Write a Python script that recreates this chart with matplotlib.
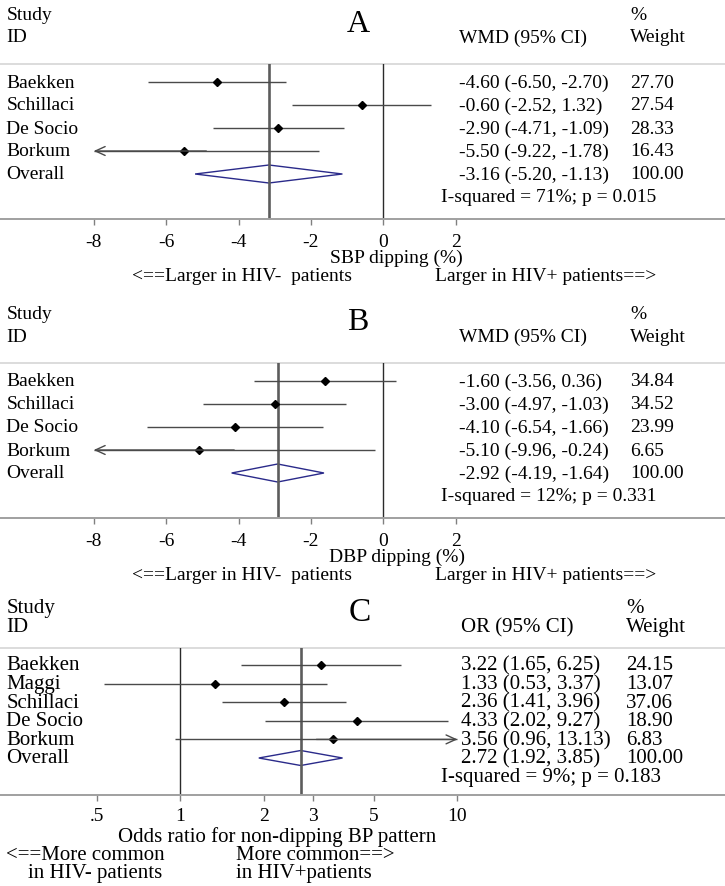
import matplotlib
matplotlib.use("Agg")
import matplotlib.pyplot as plt
from matplotlib.patches import Polygon
import numpy as np

plt.rcParams['font.family'] = ['Liberation Serif', 'DejaVu Serif']

# ---------------- data ----------------
studies_A = ["Baekken", "Schillaci", "De Socio", "Borkum"]
est_A = [-4.60, -0.60, -2.90, -5.50]
lo_A = [-6.50, -2.52, -4.71, -9.22]
hi_A = [-2.70, 1.32, -1.09, -1.78]
wt_A = [27.70, 27.54, 28.33, 16.43]
overall_A = [-3.16, -5.20, -1.13]
het_A = "I-squared = 71%; p = 0.015"
ticks_A = [-8, -6, -4, -2, 0, 2]
ticklabels_A = ["-8", "-6", "-4", "-2", "0", "2"]

studies_B = ["Baekken", "Schillaci", "De Socio", "Borkum"]
est_B = [-1.60, -3.00, -4.10, -5.10]
lo_B = [-3.56, -4.97, -6.54, -9.96]
hi_B = [0.36, -1.03, -1.66, -0.24]
wt_B = [34.84, 34.52, 23.99, 6.65]
overall_B = [-2.92, -4.19, -1.64]
het_B = "I-squared = 12%; p = 0.331"
ticks_B = [-8, -6, -4, -2, 0, 2]
ticklabels_B = ["-8", "-6", "-4", "-2", "0", "2"]

studies_C = ["Baekken", "Maggi", "Schillaci", "De Socio", "Borkum"]
est_C = [3.22, 1.33, 2.36, 4.33, 3.56]
lo_C = [1.65, 0.53, 1.41, 2.02, 0.96]
hi_C = [6.25, 3.37, 3.96, 9.27, 13.13]
wt_C = [24.15, 13.07, 37.06, 18.90, 6.83]
overall_C = [2.72, 1.92, 3.85]
het_C = "I-squared = 9%; p = 0.183"
ticks_C = [0.5, 1, 2, 3, 5, 10]
ticklabels_C = [".5", "1", "2", "3", "5", "10"]

# ---------------- figure ----------------
W, H = 725, 887
fig = plt.figure(figsize=(W / 100, H / 100), dpi=100)


def fx(px):
    return px / W


def fy(py):
    return 1 - py / H


def ftext(x, y, s, size, ha="left", va="center", **kw):
    fig.text(fx(x), fy(y), s, fontsize=size, ha=ha, va=va, color="black", **kw)


CI_COLOR = "#4a4a4a"
OVL_COLOR = "#5c5c5c"
DIAM_COLOR = "#2a2a8a"
SEP_COLOR = "#d6d6d6"
AX_COLOR = "#a0a0a0"
ARROW = "->,head_length=0.7,head_width=0.32"


def panel(top, bottom, xlim, log, studies, est, lo, hi, wt, overall, het,
          ticks, ticklabels, clip, row0, rowstep, fs, dh, hdr):
    ax = fig.add_axes([0, fy(bottom), 1, (bottom - top) / H])
    if log:
        ax.set_xscale("log")
    ax.set_xlim(*xlim)
    ax.set_ylim(bottom - top, 0)
    for s in ["top", "left", "right"]:
        ax.spines[s].set_visible(False)
    ax.spines["bottom"].set_color(AX_COLOR)
    ax.spines["bottom"].set_linewidth(1.4)
    ax.set_yticks([])
    ax.set_xticks(ticks)
    ax.set_xticklabels(ticklabels, fontsize=hdr["tickfs"])
    ax.xaxis.set_minor_locator(matplotlib.ticker.NullLocator())
    ax.tick_params(axis="x", length=4, color="#808080", width=1, pad=hdr["pad"])
    # separator line
    ax.axhline(0, color=SEP_COLOR, lw=1.2, clip_on=False)
    # null line and overall line
    nullx = 1 if log else 0
    ax.axvline(nullx, color="#2a2a2a", lw=1.0)
    ax.axvline(overall[0], color=OVL_COLOR, lw=1.9)
    rows = [row0 + i * rowstep for i in range(len(studies) + 1)]
    for i, name in enumerate(studies):
        y = rows[i] - top
        a, b = lo[i], hi[i]
        ca, cb = max(a, clip[0]), min(b, clip[1])
        mid = np.sqrt(ca * cb) if log else (ca + cb) / 2
        ax.plot([ca, cb], [y, y], color=CI_COLOR, lw=1.0, solid_capstyle="butt")
        if a < clip[0]:
            ax.annotate("", xy=(clip[0], y), xytext=(mid, y),
                        arrowprops=dict(arrowstyle=ARROW, color=CI_COLOR, lw=1.0,
                                        shrinkA=0, shrinkB=0))
        if b > clip[1]:
            ax.annotate("", xy=(clip[1], y), xytext=(mid, y),
                        arrowprops=dict(arrowstyle=ARROW, color=CI_COLOR, lw=1.0,
                                        shrinkA=0, shrinkB=0))
        ax.plot([est[i]], [y], marker="D", ms=4, color="black", mec="black")
        ftext(6.5, rows[i], name, fs)
        ftext(hdr["cix"], rows[i], f"{est[i]:.2f} ({lo[i]:.2f}, {hi[i]:.2f})", fs)
        ftext(hdr["wx"], rows[i], f"{wt[i]:.2f}", fs)
    # overall diamond
    y = rows[-1] - top
    e, a, b = overall
    ax.add_patch(Polygon([[a, y], [e, y - dh], [b, y], [e, y + dh]], closed=True,
                         fill=False, edgecolor=DIAM_COLOR, lw=1.0))
    ftext(6.5, rows[-1], "Overall", fs)
    ftext(hdr["cix"], rows[-1], f"{e:.2f} ({a:.2f}, {b:.2f})", fs)
    ftext(hdr["wx"], rows[-1], "100.00", fs)
    ftext(441.5, rows[-1] + hdr["hety"], het, fs)
    # headers
    ftext(6.5, hdr["y1"], "Study", fs)
    ftext(6.5, hdr["y2"], "ID", fs)
    ftext(hdr["letx"], hdr["lety"], hdr["letter"], hdr["letfs"], ha="center")
    ftext(hdr["cix"], hdr["y2"], hdr["cihead"], fs)
    ftext(hdr["wx"], hdr["y1"], "%", fs)
    ftext(hdr["wx"], hdr["y2"], "Weight", fs)
    return ax


FS = 14
# Panel A
panel(65, 220, (-10.59, 9.44), False, studies_A, est_A, lo_A, hi_A, wt_A, overall_A, het_A,
      ticks_A, ticklabels_A, (-8, 2), 83, 23, FS, 9,
      dict(cix=459, wx=630, y1=16, y2=38, letx=358, lety=24, letter="A", letfs=23,
           cihead="WMD (95% CI)", hety=23, pad=6, tickfs=FS))
ftext(396.5, 258, "SBP dipping (%)", FS, ha="center")
ftext(242, 277, "<==Larger in HIV-  patients", FS, ha="center")
ftext(546, 277, "Larger in HIV+ patients==>", FS, ha="center")

# Panel B
off = 299
panel(65 + off, 220 + off, (-10.59, 9.44), False, studies_B, est_B, lo_B, hi_B, wt_B, overall_B, het_B,
      ticks_B, ticklabels_B, (-8, 2), 83 + off, 23, FS, 9,
      dict(cix=459, wx=630, y1=16 + off, y2=38 + off, letx=358, lety=24 + off, letter="B", letfs=23,
           cihead="WMD (95% CI)", hety=23, pad=6, tickfs=FS))
ftext(396.5, 258 + off, "DBP dipping (%)", FS, ha="center")
ftext(242, 277 + off, "<==Larger in HIV-  patients", FS, ha="center")
ftext(546, 277 + off, "Larger in HIV+ patients==>", FS, ha="center")

# Panel C
panel(649, 796, (0.2237, 92.3), True, studies_C, est_C, lo_C, hi_C, wt_C, overall_C, het_C,
      ticks_C, ticklabels_C, (0.5, 10), 666, 18.6, 15, 7.5,
      dict(cix=461, wx=626, y1=609, y2=628, letx=360, lety=613, letter="C", letfs=24,
           cihead="OR (95% CI)", hety=19, pad=5, tickfs=14))
ftext(277, 837, "Odds ratio for non-dipping BP pattern", 15, ha="center")
ftext(6.5, 855.5, "<==More common", 15, ha="left")
ftext(28, 873.5, "in HIV- patients", 15, ha="left")
ftext(236, 855.5, "More common==>", 15, ha="left")
ftext(236, 873.5, "in HIV+patients", 15, ha="left")

fig.savefig("out.png", dpi=100, facecolor="white")
